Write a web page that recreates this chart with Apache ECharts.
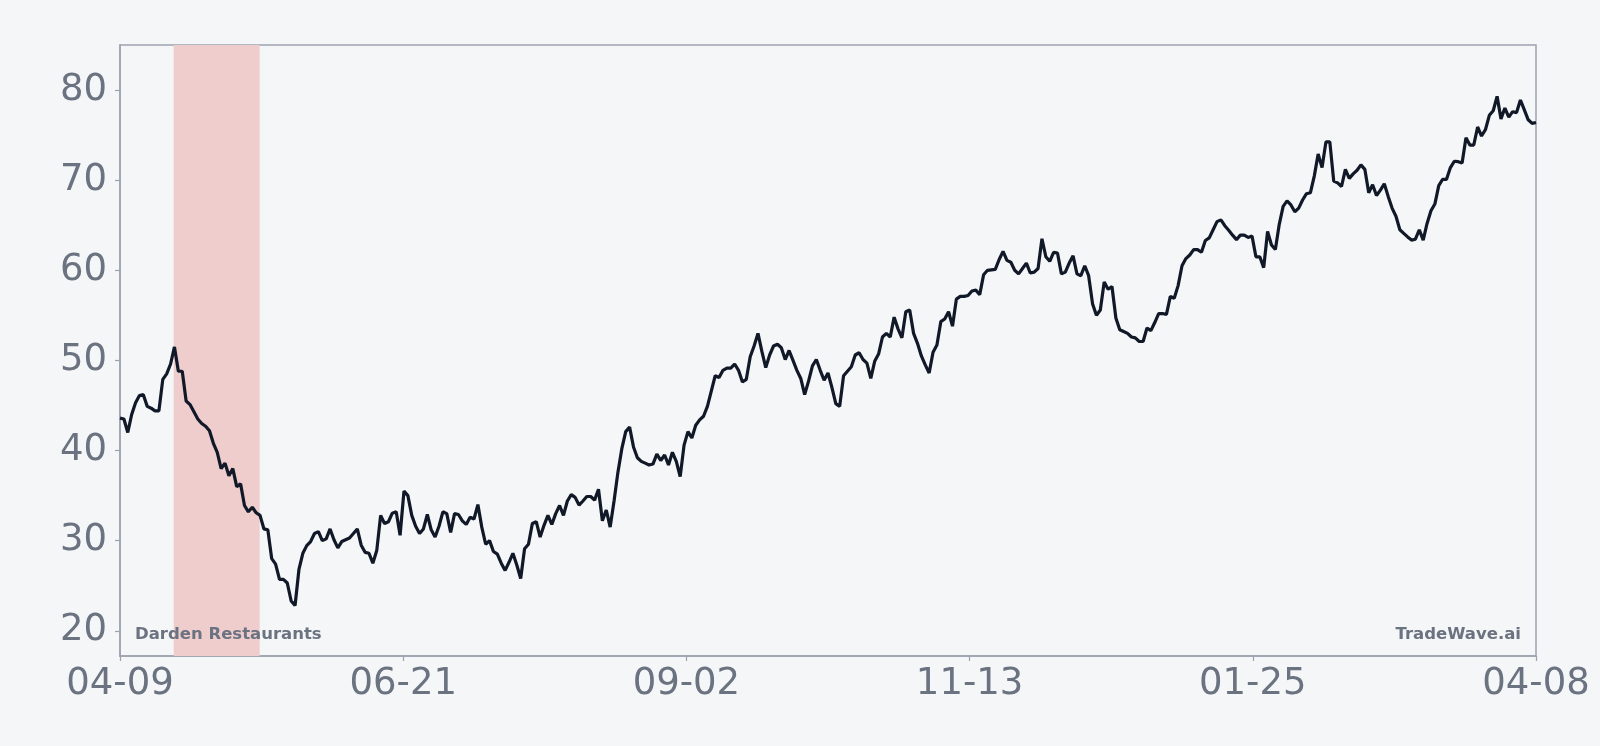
<!DOCTYPE html>
<html>
<head>
<meta charset="utf-8">
<script src="https://cdn.jsdelivr.net/npm/echarts@6/dist/echarts.min.js"></script>
<style>
  html, body { margin: 0; padding: 0; background: #f4f6f8; }
  #chart { width: 1600px; height: 746px; }
</style>
</head>
<body>
<div id="chart"></div>
<script>
// Daily closing values, 04-09 .. 04-08 (365 days)
const prices = [
  43.6, 43.5, 42.0, 44.0, 45.3, 46.1, 46.2, 44.9, 44.7, 44.4,
  44.4, 47.9, 48.5, 49.6, 51.5, 48.8, 48.8, 45.5, 45.1, 44.3,
  43.5, 43.0, 42.7, 42.2, 40.8, 39.8, 38.0, 38.6, 37.2, 38.0,
  36.0, 36.3, 33.9, 33.2, 33.7, 33.1, 32.8, 31.3, 31.2, 28.0,
  27.4, 25.7, 25.7, 25.3, 23.3, 22.8, 26.8, 28.6, 29.45, 29.9,
  30.8, 31.0, 30.0, 30.2, 31.3, 30.1, 29.2, 29.9, 30.1, 30.3,
  30.8, 31.3, 29.5, 28.7, 28.6, 27.5, 28.9, 32.8, 31.9, 32.1,
  33.05, 33.2, 30.6, 35.5, 35.0, 32.8, 31.6, 30.8, 31.3, 32.9,
  31.2, 30.4, 31.6, 33.2, 33.0, 30.9, 33.0, 32.9, 32.2, 31.8,
  32.6, 32.4, 34.0, 31.5, 29.6, 30.0, 28.8, 28.5, 27.5, 26.7,
  27.6, 28.6, 27.3, 25.8, 29.1, 29.6, 31.9, 32.1, 30.4, 31.7,
  32.8, 31.8, 33.0, 33.9, 32.8, 34.4, 35.1, 34.8, 33.95, 34.4,
  34.9, 34.9, 34.5, 35.7, 32.2, 33.4, 31.5, 34.4, 37.6, 40.2,
  42.1, 42.6, 40.4, 39.2, 38.8, 38.6, 38.4, 38.5, 39.6, 38.9,
  39.5, 38.4, 39.8, 38.8, 37.1, 40.6, 42.1, 41.4, 42.8, 43.4,
  43.8, 44.9, 46.6, 48.3, 48.1, 48.9, 49.15, 49.15, 49.6, 48.9,
  47.6, 47.9, 50.4, 51.6, 53.0, 51.0, 49.2, 50.6, 51.6, 51.8,
  51.4, 50.1, 51.1, 50.0, 48.9, 48.0, 46.2, 47.7, 49.4, 50.1,
  48.9, 47.8, 48.6, 47.0, 45.2, 44.9, 48.3, 48.8, 49.3, 50.6,
  50.85, 50.1, 49.7, 48.0, 49.9, 50.7, 52.6, 53.0, 52.6, 54.8,
  53.5, 52.5, 55.4, 55.6, 53.0, 51.9, 50.5, 49.5, 48.6, 50.9,
  51.7, 54.3, 54.6, 55.4, 53.8, 56.8, 57.1, 57.1, 57.2, 57.7,
  57.8, 57.3, 59.5, 60.0, 60.05, 60.1, 61.2, 62.1, 61.1, 60.9,
  60.0, 59.6, 60.2, 60.8, 59.7, 59.8, 60.2, 63.5, 61.5, 61.0,
  62.0, 61.9, 59.6, 59.8, 60.8, 61.6, 59.6, 59.4, 60.5, 59.4,
  56.3, 55.0, 55.6, 58.7, 57.9, 58.2, 54.7, 53.4, 53.2, 53.0,
  52.6, 52.5, 52.1, 52.1, 53.6, 53.3, 54.2, 55.2, 55.2, 55.1,
  57.1, 56.9, 58.3, 60.5, 61.3, 61.7, 62.3, 62.3, 62.0, 63.3,
  63.6, 64.5, 65.4, 65.6, 64.95, 64.45, 63.9, 63.4, 63.9, 63.9,
  63.65, 63.8, 61.5, 61.5, 60.3, 64.3, 62.8, 62.3, 65.1, 67.1,
  67.7, 67.25, 66.5, 66.9, 67.8, 68.5, 68.6, 70.45, 72.9, 71.4,
  74.25, 74.25, 69.9, 69.7, 69.3, 71.2, 70.2, 70.7, 71.1, 71.7,
  71.2, 68.6, 69.5, 68.3, 68.9, 69.6, 68.2, 66.9, 66.0, 64.5,
  64.1, 63.7, 63.35, 63.45, 64.5, 63.35, 65.2, 66.6, 67.35, 69.4,
  70.1, 70.1, 71.4, 72.1, 72.05, 71.9, 74.7, 73.9, 73.9, 75.9,
  74.9, 75.6, 77.2, 77.7, 79.3, 76.8, 78.0, 77.0, 77.6, 77.5,
  78.9, 77.8, 76.7, 76.3, 76.4
];

// x tick labels (evenly spaced across the year)
const xTickLabels = ['04-09', '06-21', '09-02', '11-13', '01-25', '04-08'];
// y tick values
const yTickValues = [20, 30, 40, 50, 60, 70, 80];
// shaded period (day index range)
const shadeRange = [13.8, 35.9];

const companyName = 'Darden Restaurants';
const brandName = 'TradeWave.ai';

const lastIndex = prices.length - 1;
const xStep = lastIndex / (xTickLabels.length - 1);
const seriesData = prices.map((v, i) => [i, v]);

const axisColor = '#9ca3af';
const labelColor = '#6b7280';
const fontFamily = 'DejaVu Sans';

const chart = echarts.init(document.getElementById('chart'));
chart.setOption({
  backgroundColor: '#f4f6f8',
  animation: false,
  grid: {
    left: 120, right: 64, top: 45, bottom: 90,
    show: true, borderColor: axisColor, borderWidth: 1.5,
    backgroundColor: 'transparent'
  },
  xAxis: {
    type: 'value',
    min: 0, max: lastIndex, interval: xStep,
    axisLine: { show: true, lineStyle: { color: axisColor, width: 1.5 } },
    axisTick: { show: true, length: 5, lineStyle: { color: axisColor, width: 1.2 } },
    splitLine: { show: false },
    axisLabel: {
      color: labelColor, fontSize: 37, fontFamily: fontFamily, margin: 10,
      formatter: v => xTickLabels[Math.round(v / xStep)] || ''
    }
  },
  yAxis: {
    type: 'value',
    min: 17.2, max: 85,
    axisLine: { show: true, lineStyle: { color: axisColor, width: 1.5 } },
    axisTick: { show: true, length: 5, customValues: yTickValues, lineStyle: { color: axisColor, width: 1.2 } },
    splitLine: { show: false },
    axisLabel: {
      color: labelColor, fontSize: 37, fontFamily: fontFamily, margin: 13,
      padding: [4, 0, 0, 0],
      customValues: yTickValues
    }
  },
  series: [{
    type: 'line',
    data: seriesData,
    showSymbol: false,
    symbol: 'none',
    lineStyle: { color: '#111827', width: 3.2 },
    z: 3,
    markArea: {
      silent: true,
      itemStyle: { color: '#efcdcd' },
      data: [[{ xAxis: shadeRange[0] }, { xAxis: shadeRange[1] }]]
    }
  }],
  graphic: [
    {
      type: 'text', left: 135, top: 626, z: 10,
      style: { text: companyName, fill: labelColor, font: 'bold 16.5px "DejaVu Sans"' }
    },
    {
      type: 'text', right: 79, top: 626, z: 10,
      style: { text: brandName, fill: labelColor, font: 'bold 16.5px "DejaVu Sans"' }
    }
  ]
});
</script>
</body>
</html>
